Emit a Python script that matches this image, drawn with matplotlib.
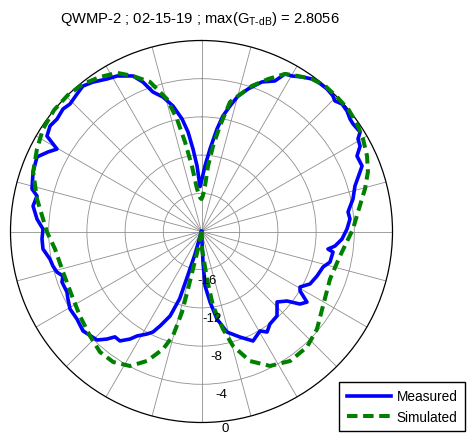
import numpy as np
import matplotlib
matplotlib.use("Agg")
import matplotlib.pyplot as plt
from matplotlib.lines import Line2D

plt.rcParams['font.family'] = ['Liberation Sans', 'DejaVu Sans']
plt.rcParams['mathtext.fontset'] = 'custom'
plt.rcParams['mathtext.rm'] = 'Liberation Sans'
plt.rcParams['mathtext.it'] = 'Liberation Sans:italic'

title_text = r'QWMP-2 ; 02-15-19 ; max(G$_{\text{T-dB}}$) = 2.8056'
series_names = ['Measured', 'Simulated']
ring_values = [-16, -12, -8, -4]
label_values = [-16, -12, -8, -4, 0]
r_min, r_max = -20, 0

# Measured (angle in degrees, clockwise from top; gain in dB)
meas_deg = [-180, -166, -164, -162.5, -162, -159.6, -156.3, -154.2, -152, -148.3, -146.4,
            -143.3, -140.6, -138.7, -136.1, -130, -125.1, -120.5, -116.8, -114.2, -109.9,
            -107.8, -105.7, -103.1, -100.3, -96.3, -92.7, -89.1, -85.7, -81.4, -77.8, -75.9,
            -70.5, -65.6, -62.6, -60.3, -58.3, -55.1, -52.1, -48.5, -45.9, -42.2, -39.2, -36,
            -31.8, -28.5, -23.8, -21.4, -19.2, -16, -12.8, -9.8, -7.7, -5.9, -3.9, -1.9, 0.5,
            3.1, 5.9, 8.6, 10.5, 12.8, 15.1, 18.1, 22, 26, 27.9, 30.2, 33, 35.9, 37.9, 41.4,
            44.1, 45.6, 47.8, 50.4, 52.9, 54.6, 57.9, 59.4, 61.7, 64.1, 67.8, 69.4, 73.5, 77.9,
            82.4, 85.2, 89, 93.1, 96.2, 97.9, 98.9, 103.4, 106.3, 111.1, 115.8, 119.4, 121.1,
            123.8, 126.4, 129.1, 133, 138.2, 143.5, 146.9, 149.5, 154.8, 160, 165.8, 170,
            173.1, 176.3, 177.2, 178, 180]
meas_db = [-22, -21, -17.5, -14.8, -12.6, -10.56, -9.19, -8.31, -7.84, -7.14, -6.48,
           -5.71, -5.72, -5.01, -4.23, -3.8, -4.06, -4.02, -4.33, -4.55, -4.46,
           -4.76, -4.28, -4.03, -3.87, -3.3, -3.28, -3.4, -2.73, -2.16, -2.38, -1.7,
           -1.29, -1.09, -1.9, -2.58, -0.98, -0.67, -0.83, -0.64, -0.82, -0.58, -0.35, -0.66,
           -1.21, -1.47, -2.2, -3.19, -4.53, -5.35, -6.52, -8.04, -9.49, -11.3, -13.1, -15.3, -14.5,
           -13.1, -11.3, -9.14, -7.7, -6.52, -5.3, -4.3, -3.11, -2.46, -1.33, -1.16, -0.7, -0.28, -0.15, -0.11,
           -0.23, -0.45, -0.13, -0.22, -0.49, -0.54, -0.4, -0.96, -1.14, -1.9, -1.84, -2.27, -3.24, -3.78,
           -4.52, -4.4, -4.76, -5.27, -5.94, -6.63, -6.06, -6.17, -6.74, -7.04, -7.38, -8.16, -7.95,
           -6.71, -7.2, -8.46, -9.18, -8.14, -7.95, -7.43, -7.92, -7.33, -8.24, -9.14, -10.7,
           -12.56, -14.3, -16.8, -21, -22]

# Simulated
sim_deg = [-180, -170, -168.7, -167.2, -166.8, -166.4, -164.7, -161.9, -157.2, -152, -145.9,
           -139.9, -133.1, -124.8, -116.5, -106.3, -96.8, -90.2, -78.8, -70.5, -63.4, -57.1,
           -50.5, -44.4, -38.8, -33.3, -28, -23.8, -19, -14.6, -12.3, -10.4, -8.3, -6, -2, 0,
           2, 4.4, 5.7, 7.7, 9.9, 12.4, 15.1, 19.1, 23.6, 27.9, 31.8, 35.9, 40.3, 45.2, 50.5,
           56, 60.2, 65.5, 70.3, 75.4, 82.9, 89.1, 100, 110.3, 121.5, 130.2, 137.6, 145.6, 153,
           159.5, 164.6, 167.6, 171.2, 173.4, 178.4, 180]
sim_db = [-22, -21, -18.1, -16, -13.8, -11.3, -8.66, -7.05, -5.3, -4.05, -3.5,
          -3.5, -4.0, -4.5, -4.85, -4.89, -4.55, -3.82, -2.44, -1.3, -0.73, -0.23,
          0, 0, -0.19, -0.64, -1.19, -2.2, -3.44, -5.67, -7.95, -10.5, -13.1, -15.5, -16.5, -16.6,
          -16.3, -15.2, -13.1, -10.96, -8.79, -6.12, -5.3, -3.87, -2.58, -1.33, -0.84, -0.28, 0, 0, 0,
          -0.24, -0.51, -0.95, -1.49, -2.31, -3.49, -4.14, -5.27, -5.65, -5.08, -4.17, -3.62, -3.57, -4.2,
          -5.52, -7.56, -9.55, -12.1, -15, -18.2, -22]

W, H = 470, 435
fig = plt.figure(figsize=(W / 100, H / 100), dpi=100)
cx, cy, R = 201.5, 232.5, 191.0
ax = fig.add_axes([(cx - R) / W, (H - cy - R) / H, 2 * R / W, 2 * R / H], projection='polar')
ax.set_theta_zero_location('N')
ax.set_theta_direction(-1)
ax.set_rlim(r_min, r_max)
ax.set_xticks(np.deg2rad(np.arange(0, 360, 15)))
ax.set_xticklabels([])
ax.set_yticks(ring_values)
ax.set_yticklabels([])
ax.grid(True, color='#8f8f8f', lw=0.6, ls='-')
ax.tick_params(axis='x', direction='in', length=4, width=0.8, colors='k')
ax.tick_params(axis='y', length=0)
ax.spines['polar'].set_linewidth(0.9)
ax.spines['polar'].set_color('k')

mt = np.deg2rad(meas_deg)
mr = np.clip(meas_db, r_min, None)
st = np.deg2rad(sim_deg)
sr = np.clip(sim_db, r_min, None)
ax.plot(mt, mr, color='#0000ff', lw=2.6, clip_on=False, zorder=3)
ax.plot(st, sr, color='#008000', lw=2.9, ls=(0, (2.6, 1.4)), clip_on=False, zorder=4)

for v in label_values:
    off = 1.15 if v < 0 else 0.72
    ax.text(np.deg2rad(173), v + off, str(v), ha='center', va='center',
            fontsize=9.5, clip_on=False, zorder=5)

fig.text(200 / W, 1 - 22.5 / H, title_text, ha='center', va='baseline', fontsize=10.6)

handles = [Line2D([], [], color='#0000ff', lw=2.6),
           Line2D([], [], color='#008000', lw=2.9, ls=(0, (2.6, 1.4)))]
leg = fig.legend(handles, series_names, loc='lower right',
                 bbox_to_anchor=(465 / W, 3 / H), fancybox=False, edgecolor='k',
                 framealpha=1, fontsize=9.8, handlelength=3.2, handletextpad=0.45,
                 borderpad=0.55, labelspacing=0.45, borderaxespad=0)
leg.get_frame().set_linewidth(1.0)

fig.savefig('out.png', dpi=100)
